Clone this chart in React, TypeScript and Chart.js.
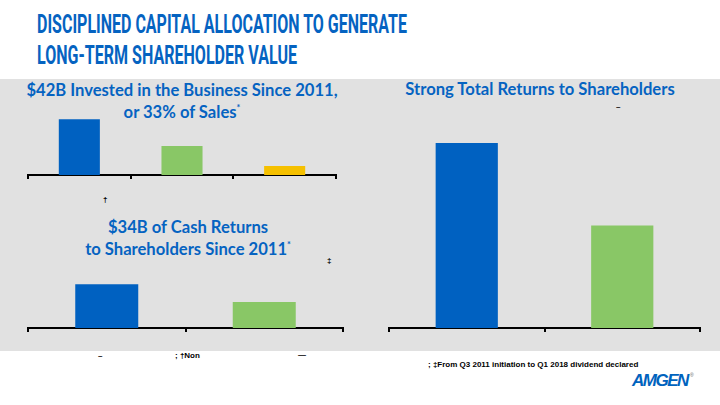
import React, { useEffect, useLayoutEffect, useRef } from "react";
import { Chart, registerables } from "chart.js";

Chart.register(...registerables);

// ---- Data ----
const investCategories = ["R&D", "Capital Expenditures", "Other Investments"];
const investValues = [25, 13, 4];
const investColors = ["#0061c1", "#89c766", "#f5c000"];

const cashCategories = ["Share Repurchases", "Dividends"];
const cashValues = [21.3, 12.7];
const cashColors = ["#0061c1", "#89c766"];

const tsrCategories = ["Amgen", "Benchmark"];
const tsrValues = [184, 102];
const tsrColors = ["#0061c1", "#89c766"];

const BLUE = "#0563c1";

type BarProps = {
  labels: string[];
  values: number[];
  colors: string[];
  max: number;
  left: number;
  top: number;
  width: number;
  height: number;
};

function BarChart({ labels, values, colors, max, left, top, width, height }: BarProps) {
  const ref = useRef<HTMLCanvasElement | null>(null);
  useEffect(() => {
    if (!ref.current) return;
    const chart = new Chart(ref.current, {
      type: "bar",
      data: {
        labels,
        datasets: [
          {
            data: values,
            backgroundColor: colors,
            borderWidth: 0,
            barPercentage: 0.4,
            categoryPercentage: 1,
          },
        ],
      },
      options: {
        responsive: false,
        maintainAspectRatio: false,
        animation: false,
        layout: { padding: { left: 2, right: 2, top: 0, bottom: 0 } },
        plugins: { legend: { display: false }, tooltip: { enabled: false } },
        scales: {
          x: {
            offset: true,
            grid: {
              display: true,
              offset: true,
              drawOnChartArea: false,
              drawTicks: true,
              tickLength: 4,
              color: "#000",
              lineWidth: 2,
            },
            border: { display: true, color: "#000", width: 2 },
            ticks: { display: false },
          },
          y: { display: false, min: 0, max },
        },
      },
    });
    return () => chart.destroy();
  }, []);
  return (
    <canvas
      ref={ref}
      width={width}
      height={height}
      style={{ position: "absolute", left, top, width, height }}
    />
  );
}

const abs = (left: number, top: number, extra: React.CSSProperties = {}): React.CSSProperties => ({
  position: "absolute",
  left,
  top,
  whiteSpace: "nowrap",
  ...extra,
});

function FitText({ left, top, width, style, children }: { left: number; top: number; width: number; style: React.CSSProperties; children: React.ReactNode }) {
  const ref = useRef<HTMLDivElement | null>(null);
  useLayoutEffect(() => {
    const el = ref.current;
    if (!el) return;
    el.style.transform = "none";
    const w = el.getBoundingClientRect().width;
    if (w > 0) el.style.transform = `scaleX(${width / w})`;
  }, []);
  return (
    <div ref={ref} style={{ ...abs(left, top, style), transformOrigin: "0 0", display: "inline-block" }}>
      {children}
    </div>
  );
}

export default function App() {
  const titleFont: React.CSSProperties = {
    fontFamily: "Roboto, 'Open Sans', sans-serif",
    fontWeight: 700,
    fontSize: 25,
    lineHeight: "31px",
    color: BLUE,
  };
  const subFont: React.CSSProperties = {
    fontFamily: "Lato, 'Open Sans', sans-serif",
    fontWeight: 700,
    fontSize: 16.6,
    lineHeight: "18px",
    color: BLUE,
    textAlign: "center",
  };
  const small: React.CSSProperties = {
    fontFamily: "'Liberation Sans', Arial, sans-serif",
    fontWeight: 700,
    fontSize: 8,
    color: "#000",
  };
  return (
    <div
      style={{
        position: "fixed",
        left: 0,
        top: 0,
        width: 720,
        height: 405,
        background: "#fff",
        overflow: "hidden",
      }}
    >
      <FitText left={37} top={9} width={370} style={titleFont}>DISCIPLINED CAPITAL ALLOCATION TO GENERATE</FitText>
      <FitText left={37} top={40} width={260} style={titleFont}>LONG-TERM SHAREHOLDER VALUE</FitText>

      <div style={{ position: "absolute", left: 0, top: 79, width: 720, height: 272, background: "#e1e1e1" }} />

      <div style={abs(0, 81, { ...subFont, width: 364 })}>
        $42B Invested in the Business Since 2011,
        <br />
        or 33% of Sales<sup style={{ fontSize: 9 }}>*</sup>
      </div>
      <div style={abs(0, 218, { ...subFont, width: 376 })}>
        $34B of Cash Returns
        <br />
        to Shareholders Since 2011<sup style={{ fontSize: 9 }}>*</sup>
      </div>
      <div style={abs(380, 80, { ...subFont, width: 320 })}>Strong Total Returns to Shareholders</div>

      <div style={abs(103, 195, small)}>†</div>
      <div style={abs(327, 256, small)}>‡</div>
      <div style={abs(616, 102, small)}>–</div>

      <BarChart labels={investCategories} values={investValues} colors={investColors} max={33.6}
        left={26} top={100} width={312} height={79} />
      <BarChart labels={cashCategories} values={cashValues} colors={cashColors} max={38}
        left={26} top={250} width={319} height={82} />
      <BarChart labels={tsrCategories} values={tsrValues} colors={tsrColors} max={200}
        left={387} top={127} width={315} height={205} />

      <div style={abs(98, 351, small)}>–</div>
      <div style={abs(175, 351, small)}>; †Non</div>
      <div style={abs(298, 350, small)}>—</div>
      <div style={abs(428, 360, small)}>; ‡From Q3 2011 initiation to Q1 2018 dividend declared</div>

      <div
        style={abs(632, 371, {
          fontFamily: "'Liberation Sans', Arial, sans-serif",
          fontWeight: 900,
          fontStyle: "italic",
          fontSize: 17,
          letterSpacing: -1.5,
          color: "#0063be",
        })}
      >
        AMGEN
      </div>
      <div style={abs(690, 372, { fontFamily: "'Liberation Sans', Arial, sans-serif", fontSize: 5, color: "#666" })}>®</div>
    </div>
  );
}
